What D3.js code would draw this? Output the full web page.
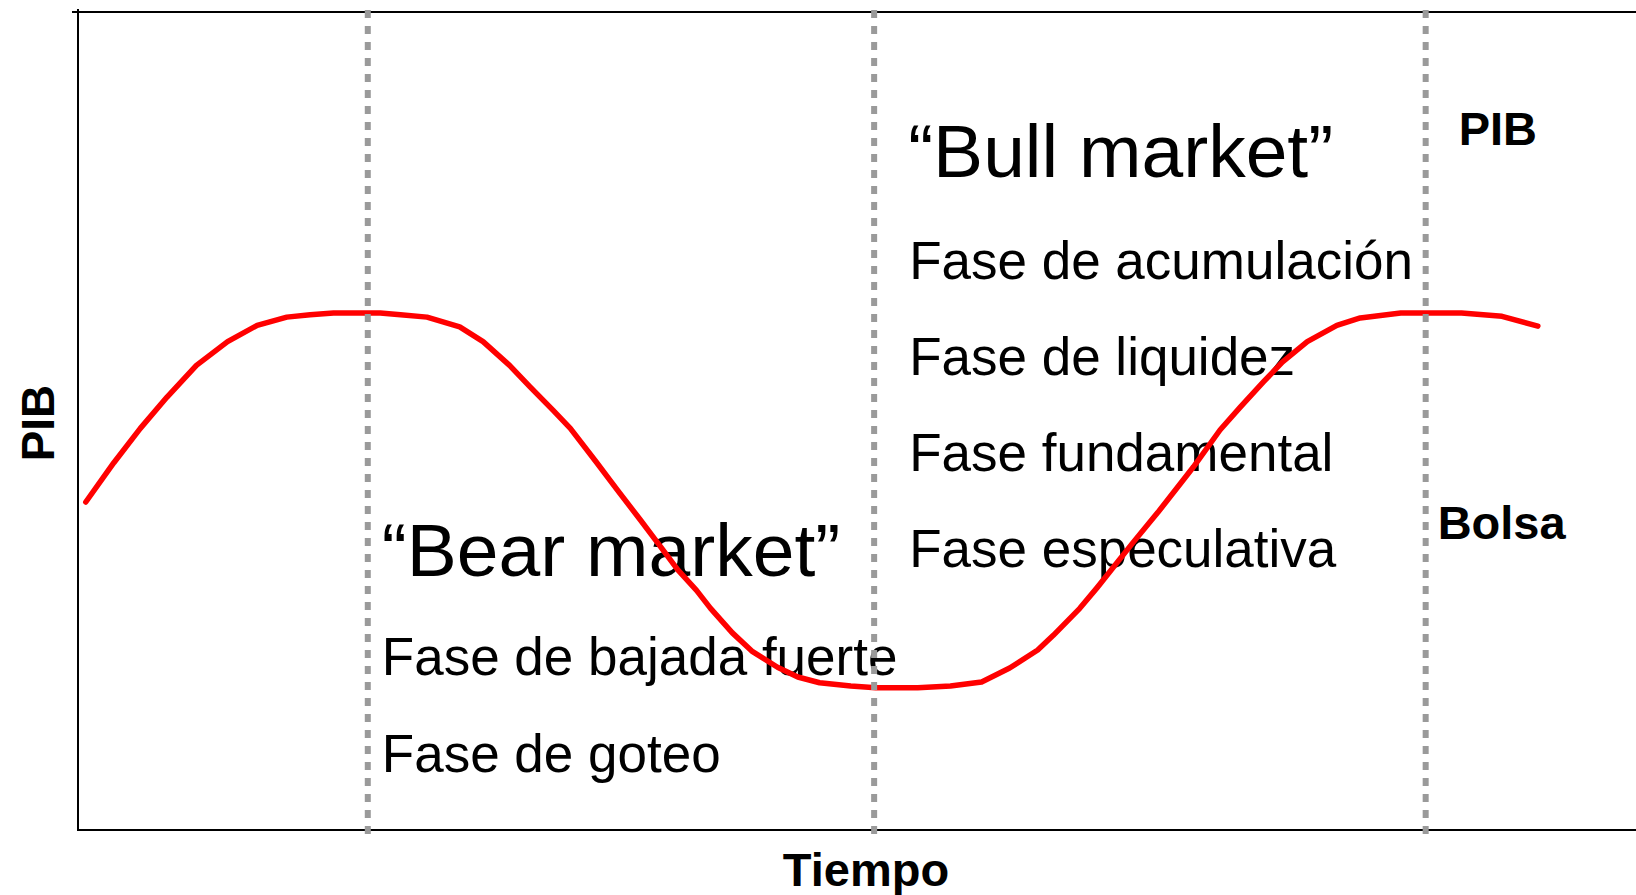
<!DOCTYPE html>
<html>
<head>
<meta charset="utf-8">
<script src="https://d3js.org/d3.v7.min.js"></script>
<style>
  body { margin: 0; background: #fff; }
  text { font-family: "Liberation Sans", Arial, sans-serif; }
</style>
</head>
<body>
<div id="wrapper"></div>
<script>
// tiempo (0-100) and PIB / bolsa level (0-100)
var tiempo = [0.5, 2.3, 4.0, 5.7, 7.6, 9.6, 11.5, 13.4, 14.9, 16.4, 19.4, 20.7, 22.4, 24.5, 26.0,
  27.7, 29.0, 30.5, 31.6, 33.3, 34.6, 36.1, 37.4, 38.5, 39.7, 40.6, 42.0, 43.3, 44.9, 46.2,
  47.6, 49.6, 51.2, 53.9, 56.0, 58.0, 59.8, 61.6, 62.6, 64.3, 65.4, 66.2, 67.7, 69.3, 70.7,
  71.6, 73.3, 74.6, 76.1, 77.3, 78.9, 80.8, 82.3, 84.9, 86.5, 88.8, 91.4, 93.7];
var nivel = [40.1, 44.9, 49.1, 52.9, 56.8, 59.7, 61.7, 62.7, 63.0, 63.2, 63.2, 63.0, 62.7, 61.5, 59.7,
  56.8, 54.2, 51.3, 49.1, 44.9, 41.6, 37.9, 34.6, 31.8, 29.3, 27.1, 24.1, 21.8, 19.9, 18.7,
  18.0, 17.6, 17.4, 17.4, 17.6, 18.1, 19.8, 22.0, 23.8, 27.1, 29.6, 31.5, 35.1, 38.8, 42.2,
  44.4, 48.9, 51.7, 54.8, 57.2, 59.7, 61.7, 62.6, 63.2, 63.2, 63.2, 62.8, 61.6];

// phase boundaries on the time axis
var limites = [18.6, 51.1, 86.5];

var bearTitulo = "\u201cBear market\u201d";
var bearFases = ["Fase de bajada fuerte", "Fase de goteo"];
var bullTitulo = "\u201cBull market\u201d";
var bullFases = ["Fase de acumulación", "Fase de liquidez", "Fase fundamental", "Fase especulativa"];

drawCiclo('#wrapper');

function drawCiclo(dom_element_to_append_to) {
  var width = 1636, height = 895;
  var left = 78, top = 12, bottom = 830, right = 1636;

  var data = tiempo.map((t, i) => ({ t: t, v: nivel[i] }));

  var x = d3.scaleLinear().domain([0, 100]).range([left, right]);
  var y = d3.scaleLinear().domain([0, 100]).range([bottom, top]);

  var svg = d3.select(dom_element_to_append_to)
    .append("svg")
    .attr("width", width)
    .attr("height", height);

  // frame: left, top, bottom
  svg.append("line").attr("x1", left).attr("x2", left).attr("y1", top - 3).attr("y2", bottom + 1)
    .attr("stroke", "#000").attr("stroke-width", 2);
  svg.append("line").attr("x1", left - 6).attr("x2", right).attr("y1", top).attr("y2", top)
    .attr("stroke", "#000").attr("stroke-width", 2);
  svg.append("line").attr("x1", left).attr("x2", right).attr("y1", bottom).attr("y2", bottom)
    .attr("stroke", "#000").attr("stroke-width", 2);

  // axis titles
  svg.append("text")
    .attr("x", (left + right) / 2 + 9).attr("y", 886)
    .attr("text-anchor", "middle")
    .style("font-weight", "bold").style("font-size", "47px")
    .text("Tiempo");

  svg.append("text")
    .attr("transform", "translate(54," + 423 + ") rotate(-90)")
    .attr("text-anchor", "middle")
    .style("font-weight", "bold").style("font-size", "46px")
    .text("PIB");

  // series labels
  svg.append("text").attr("x", x(limites[2]) + 33).attr("y", 145)
    .style("font-weight", "bold").style("font-size", "47px").text("PIB");
  svg.append("text").attr("x", x(limites[2]) + 12).attr("y", 539)
    .style("font-weight", "bold").style("font-size", "47px").text("Bolsa");

  // bear market block
  svg.append("text").attr("x", x(limites[0]) + 14).attr("y", 576)
    .style("font-size", "75px").text(bearTitulo);
  svg.selectAll(".bear")
    .data(bearFases)
    .enter()
    .append("text")
    .attr("class", "bear")
    .attr("x", x(limites[0]) + 14)
    .attr("y", (d, i) => 675 + i * 97)
    .style("font-size", "53px")
    .text(d => d);

  // bull market block
  svg.append("text").attr("x", x(limites[1]) + 34).attr("y", 177)
    .style("font-size", "75px").text(bullTitulo);
  svg.selectAll(".bull")
    .data(bullFases)
    .enter()
    .append("text")
    .attr("class", "bull")
    .attr("x", x(limites[1]) + 35)
    .attr("y", (d, i) => 279 + i * 96)
    .style("font-size", "53px")
    .text(d => d);

  // curve
  var line = d3.line()
    .x(d => x(d.t))
    .y(d => y(d.v));

  svg.append("path")
    .datum(data)
    .attr("d", line)
    .attr("fill", "none")
    .attr("stroke", "#ff0000")
    .attr("stroke-width", 5.5)
    .attr("stroke-linejoin", "round")
    .attr("stroke-linecap", "round");

  // dotted phase separators
  svg.selectAll(".limite")
    .data(limites)
    .enter()
    .append("line")
    .attr("class", "limite")
    .attr("x1", d => x(d)).attr("x2", d => x(d))
    .attr("y1", top - 2).attr("y2", bottom + 4)
    .attr("stroke", "#9a9a9a")
    .attr("stroke-width", 6)
    .attr("stroke-dasharray", "8,8");
}
</script>
</body>
</html>
